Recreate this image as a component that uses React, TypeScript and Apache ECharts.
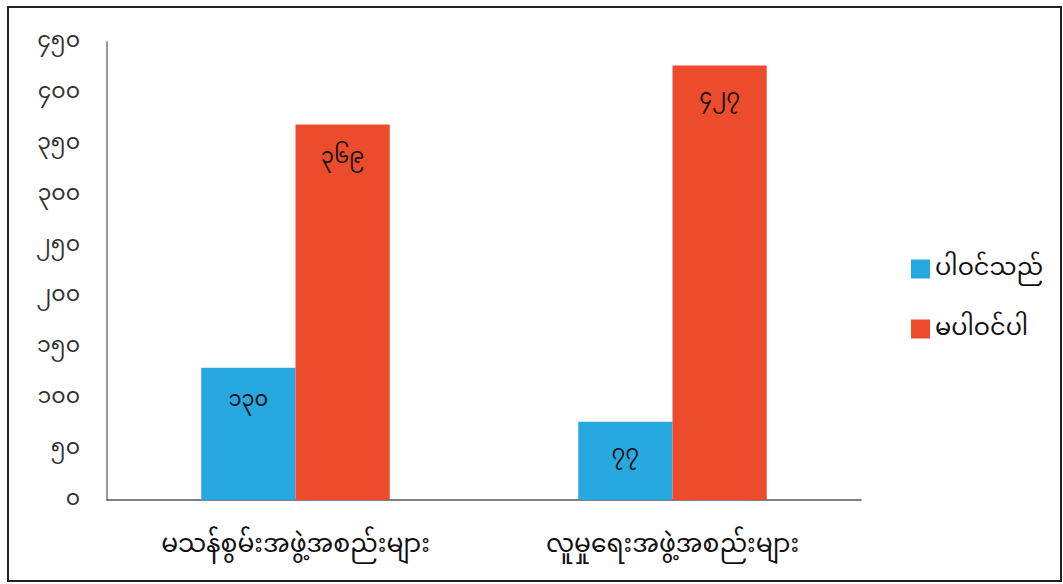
import React, { useEffect, useRef } from "react";
import * as echarts from "echarts";

const categories = ["မသန်စွမ်းအဖွဲ့အစည်းများ", "လူမှုရေးအဖွဲ့အစည်းများ"];
const seriesNames = ["ပါဝင်သည်", "မပါဝင်ပါ"];
const includedValues = [130, 77];
const notIncludedValues = [369, 427];
const yMin = 0;
const yMax = 450;
const yInterval = 50;

const MY_DIGITS = ["၀", "၁", "၂", "၃", "၄", "၅", "၆", "၇", "၈", "၉"];
const toMyanmar = (n: number | string) =>
  String(n).replace(/[0-9]/g, (d) => MY_DIGITS[Number(d)]);

const FONT = "'Noto Sans Myanmar', 'Padauk', 'Myanmar Text', 'Noto Sans', 'DejaVu Sans', sans-serif";

export default function App() {
  const ref = useRef<HTMLDivElement>(null);
  useEffect(() => {
    if (!ref.current) return;
    const chart = echarts.init(ref.current, undefined, { renderer: "svg" });
    chart.setOption({
      animation: false,
      backgroundColor: "#ffffff",
      textStyle: { fontFamily: FONT },
      graphic: [
        {
          type: "rect",
          shape: { x: 8, y: 7, width: 1053, height: 574 },
          style: { fill: "none", stroke: "#222", lineWidth: 2 },
          silent: true,
        },
      ],
      grid: { left: 107, right: 202, top: 42, bottom: 84, containLabel: false },
      legend: {
        orient: "vertical",
        left: 906,
        top: 252,
        itemWidth: 19,
        itemHeight: 19,
        itemGap: 36,
        icon: "rect",
        textStyle: { fontSize: 24, color: "#111", fontFamily: FONT },
        data: seriesNames,
      },
      xAxis: {
        type: "category",
        data: categories,
        axisLine: { lineStyle: { color: "#555", width: 1.5 } },
        axisTick: { show: false },
        axisLabel: { fontSize: 25, color: "#111", margin: 34, fontFamily: FONT },
      },
      yAxis: {
        type: "value",
        min: yMin,
        max: yMax,
        interval: yInterval,
        axisLine: { show: true, lineStyle: { color: "#777", width: 1.5 } },
        axisTick: { show: false },
        splitLine: { show: false },
        axisLabel: {
          fontSize: 22,
          color: "#333",
          margin: 27,
          fontFamily: FONT,
          formatter: (v: number) => toMyanmar(v),
        },
      },
      series: [
        {
          name: seriesNames[0],
          type: "bar",
          data: includedValues,
          barGap: "0%",
          barCategoryGap: "50%",
          itemStyle: { color: "#27A8E0" },
          label: {
            show: true,
            position: "insideTop",
            distance: 23,
            fontSize: 21,
            color: "#111",
            fontFamily: FONT,
            formatter: (p: any) => toMyanmar(p.value),
          },
        },
        {
          name: seriesNames[1],
          type: "bar",
          data: notIncludedValues,
          barGap: "0%",
          barCategoryGap: "50%",
          itemStyle: { color: "#EC4B2C" },
          label: {
            show: true,
            position: "insideTop",
            distance: 23,
            fontSize: 21,
            color: "#111",
            fontFamily: FONT,
            formatter: (p: any) => toMyanmar(p.value),
          },
        },
      ],
    });
    return () => chart.dispose();
  }, []);
  return (
    <div
      ref={ref}
      style={{ position: "fixed", left: 0, top: 0, width: 1063, height: 584 }}
    />
  );
}
